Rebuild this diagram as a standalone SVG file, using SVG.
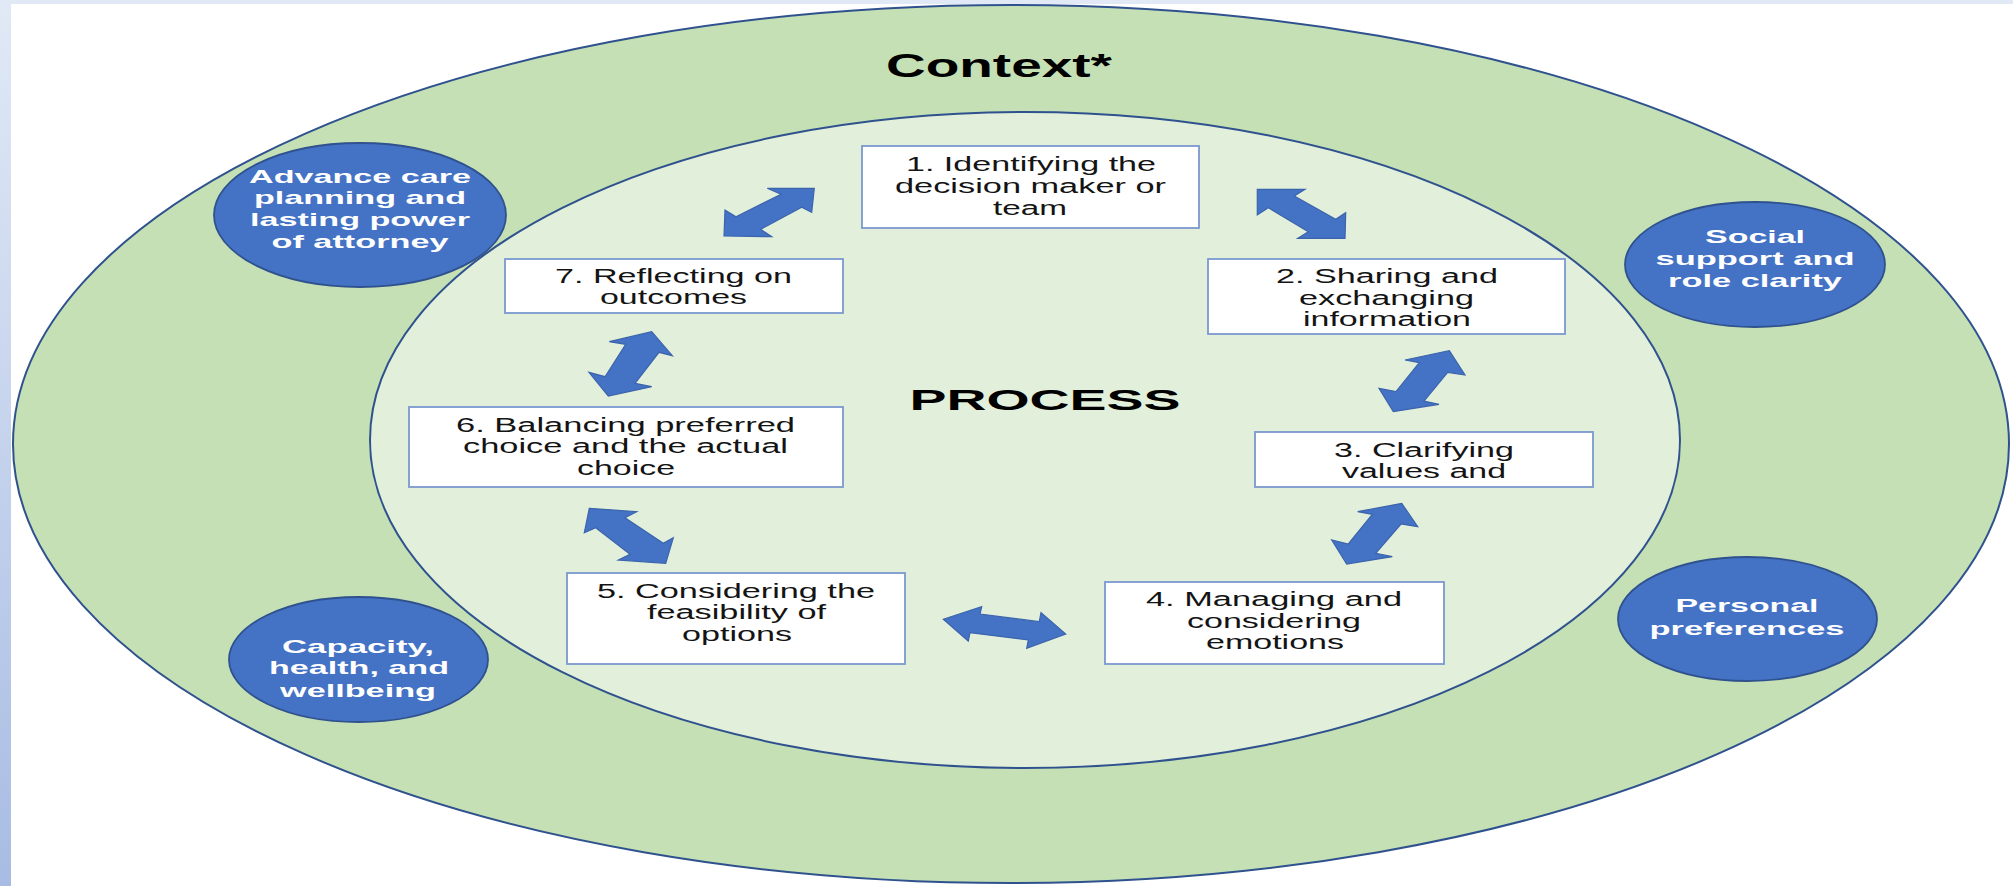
<svg xmlns="http://www.w3.org/2000/svg" width="2013" height="886" viewBox="0 0 2013 886">
  <defs>
    <linearGradient id="sideBand" x1="0" y1="0" x2="0" y2="1">
      <stop offset="0" stop-color="#e1e9f6"/>
      <stop offset="1" stop-color="#a8bce3"/>
    </linearGradient>
    <style>
      .ring-outer { fill: #c5e0b4; stroke: #2f528f; stroke-width: 2; }
      .ring-inner { fill: #e2efda; stroke: #2f528f; stroke-width: 2; }
      .step rect { fill: #ffffff; stroke: #7a98cf; stroke-width: 1.8; }
      .step text { font-family: "Liberation Sans", Arial, sans-serif; font-size: 19.5px; fill: #141414; text-anchor: middle; }
      .factor ellipse { fill: #4472c4; stroke: #2f528f; stroke-width: 1.8; }
      .factor text { font-family: "Liberation Sans", Arial, sans-serif; font-weight: bold; font-size: 18.5px; fill: #ffffff; text-anchor: middle; }
      .title { font-family: "Liberation Sans", Arial, sans-serif; font-weight: bold; fill: #000000; text-anchor: middle; }
      .link { fill: #4472c4; stroke: #3b64ad; stroke-width: 1.2; stroke-linejoin: miter; }
    </style>
  </defs>

  <!-- page background with the slide's pale blue edge bands -->
  <rect x="0" y="0" width="2013" height="886" fill="#ffffff"/>
  <rect x="0" y="0" width="2013" height="4" fill="#e1e9f6"/>
  <rect x="0" y="0" width="11" height="886" fill="url(#sideBand)"/>

  <!-- context ring and process area -->
  <ellipse id="context" class="ring-outer" cx="1011" cy="444" rx="998" ry="439"/>
  <ellipse id="process-area" class="ring-inner" cx="1025" cy="440" rx="655" ry="328"/>

  <text class="title" x="999" y="77" font-size="33" textLength="226" lengthAdjust="spacingAndGlyphs">Context*</text>
  <text class="title" x="1045" y="410" font-size="30" textLength="271" lengthAdjust="spacingAndGlyphs">PROCESS</text>

  <!-- contextual factors -->
  <g id="factor-advance-care" class="factor">
    <ellipse cx="360" cy="215" rx="146" ry="72"/>
    <text x="360" y="183" textLength="222" lengthAdjust="spacingAndGlyphs">Advance care</text>
    <text x="360" y="204" textLength="212" lengthAdjust="spacingAndGlyphs">planning and</text>
    <text x="360" y="226" textLength="220" lengthAdjust="spacingAndGlyphs">lasting power</text>
    <text x="360" y="248" textLength="177" lengthAdjust="spacingAndGlyphs">of attorney</text>
  </g>
  <g id="factor-capacity" class="factor">
    <ellipse cx="358.5" cy="659.5" rx="129.5" ry="62.5"/>
    <text x="358" y="653" textLength="152" lengthAdjust="spacingAndGlyphs">Capacity,</text>
    <text x="359" y="674" textLength="180" lengthAdjust="spacingAndGlyphs">health, and</text>
    <text x="358" y="697" textLength="156" lengthAdjust="spacingAndGlyphs">wellbeing</text>
  </g>
  <g id="factor-social" class="factor">
    <ellipse cx="1755" cy="264.5" rx="130" ry="62.5"/>
    <text x="1755" y="243" textLength="100" lengthAdjust="spacingAndGlyphs">Social</text>
    <text x="1755" y="265" textLength="199" lengthAdjust="spacingAndGlyphs">support and</text>
    <text x="1755" y="287" textLength="174" lengthAdjust="spacingAndGlyphs">role clarity</text>
  </g>
  <g id="factor-personal" class="factor">
    <ellipse cx="1747.5" cy="619" rx="129.5" ry="62"/>
    <text x="1747" y="612" textLength="143" lengthAdjust="spacingAndGlyphs">Personal</text>
    <text x="1747" y="635" textLength="195" lengthAdjust="spacingAndGlyphs">preferences</text>
  </g>

  <!-- process steps -->
  <g id="step-1" class="step">
    <rect x="862" y="146" width="337" height="82"/>
    <text x="1031" y="171" textLength="250" lengthAdjust="spacingAndGlyphs">1. Identifying the</text>
    <text x="1030.5" y="193" textLength="271" lengthAdjust="spacingAndGlyphs">decision maker or</text>
    <text x="1030" y="215" textLength="74" lengthAdjust="spacingAndGlyphs">team</text>
  </g>
  <g id="step-2" class="step">
    <rect x="1208" y="259" width="357" height="75"/>
    <text x="1387" y="283" textLength="222" lengthAdjust="spacingAndGlyphs">2. Sharing and</text>
    <text x="1386.5" y="305" textLength="175" lengthAdjust="spacingAndGlyphs">exchanging</text>
    <text x="1387" y="326" textLength="168" lengthAdjust="spacingAndGlyphs">information</text>
  </g>
  <g id="step-3" class="step">
    <rect x="1255" y="432" width="338" height="55"/>
    <text x="1424" y="457" textLength="180" lengthAdjust="spacingAndGlyphs">3. Clarifying</text>
    <text x="1424" y="478" textLength="164" lengthAdjust="spacingAndGlyphs">values and</text>
  </g>
  <g id="step-4" class="step">
    <rect x="1105" y="582" width="339" height="82"/>
    <text x="1274" y="606" textLength="256" lengthAdjust="spacingAndGlyphs">4. Managing and</text>
    <text x="1274" y="628" textLength="174" lengthAdjust="spacingAndGlyphs">considering</text>
    <text x="1275" y="649" textLength="138" lengthAdjust="spacingAndGlyphs">emotions</text>
  </g>
  <g id="step-5" class="step">
    <rect x="567" y="573" width="338" height="91"/>
    <text x="736" y="598" textLength="278" lengthAdjust="spacingAndGlyphs">5. Considering the</text>
    <text x="736.5" y="619" textLength="179" lengthAdjust="spacingAndGlyphs">feasibility of</text>
    <text x="737" y="641" textLength="110" lengthAdjust="spacingAndGlyphs">options</text>
  </g>
  <g id="step-6" class="step">
    <rect x="409" y="407" width="434" height="80"/>
    <text x="625.5" y="432" textLength="339" lengthAdjust="spacingAndGlyphs">6. Balancing preferred</text>
    <text x="625.5" y="453" textLength="325" lengthAdjust="spacingAndGlyphs">choice and the actual</text>
    <text x="626" y="475" textLength="98" lengthAdjust="spacingAndGlyphs">choice</text>
  </g>
  <g id="step-7" class="step">
    <rect x="505" y="259" width="338" height="54"/>
    <text x="673.5" y="283" textLength="237" lengthAdjust="spacingAndGlyphs">7. Reflecting on</text>
    <text x="673.5" y="304" textLength="147" lengthAdjust="spacingAndGlyphs">outcomes</text>
  </g>

  <!-- two-way block arrows between consecutive steps -->
  <g id="connectors">
    <polygon id="link-7-1" class="link" points="814.3,188.3 811.7,212.3 801.7,207.3 760.7,229.3 771.7,236.7 724,236 725,210 736,216.7 781,194.3 767.3,188.3"/>
    <polygon id="link-1-2" class="link" points="1257.3,189.3 1305,189.3 1294.3,196 1335.7,219.3 1345.7,212.7 1345,238.3 1297.7,238.3 1308.3,231.7 1268.3,207.7 1257.3,215"/>
    <polygon id="link-2-3" class="link" points="1449.3,350.7 1465,375 1447.7,372.3 1424,401 1439,404.3 1393.3,411.7 1379,388.3 1396,391.7 1419.3,362.7 1405,360"/>
    <polygon id="link-3-4" class="link" points="1401.7,503.3 1417.7,526.7 1401,524 1375.7,553.3 1392.3,556.7 1346.7,564 1331.7,540 1348.3,544 1372.3,514.3 1357.7,511.7"/>
    <polygon id="link-4-5" class="link" points="943.3,619.3 981.7,606.7 980,614 1039.3,621.7 1041,612.7 1065.7,634 1026.7,648.3 1028.3,640 970,632.7 968.3,641"/>
    <polygon id="link-5-6" class="link" points="589.3,508.3 636.7,511.7 625,517.7 663.3,543.3 673.3,537.7 665.7,563.3 618.3,560 630,554.3 595.7,527.7 584.3,532.7"/>
    <polygon id="link-6-7" class="link" points="651.7,331.7 672.3,355.7 659,352.3 635,383.3 651.7,386.7 608.3,396 589,372.3 605,376.7 625.7,344.3 609.3,341.7"/>
  </g>
</svg>
